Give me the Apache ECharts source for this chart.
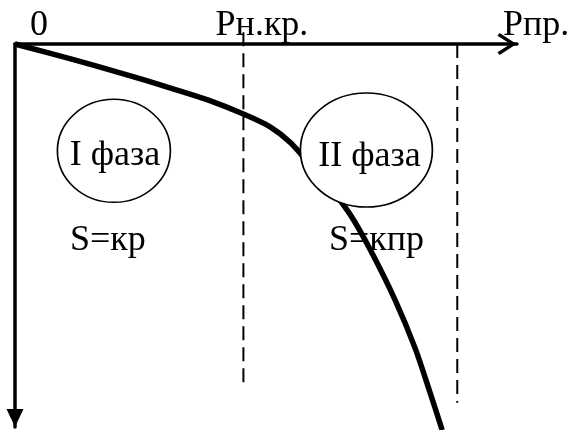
<!DOCTYPE html>
<html>
<head>
<meta charset="utf-8">
<script src="https://cdn.jsdelivr.net/npm/echarts@6/dist/echarts.min.js"></script>
<style>
  html, body { margin: 0; padding: 0; background: #fff; }
  #chart { width: 573px; height: 430px; }
</style>
</head>
<body>
<div id="chart"></div>
<script>
// settlement curve S(P), load P along x, settlement S downwards
var curveP = [0, 11.1, 21.1, 31.0, 38.4, 45.5, 50.9, 54.9, 58.8, 62.8, 66.8, 70.8, 75.7, 79.7, 82.7, 85.1];
var curveS = [0, 3.9, 7.6, 11.5, 14.6, 18.3, 21.7, 25.8, 31.6, 37.6, 44.6, 53.8, 66.8, 79.4, 91.1, 100.8];

// Pн.кр. and Pпр. dashed guides
var guideP = [45.5, 88.1];
var guideTop = [-3.1, 0];
var guideBottom = [89.8, 93.7];

// labels on the load axis
var axisTexts = ['0', 'Рн.кр.', 'Рпр.'];
var axisTextP = [4.8, 49.2, 103.8];
var axisTextS = [-4.7, -4.7, -4.7];

// phase ellipses
var phaseNames = ['I фаза', 'II фаза'];
var phaseP = [19.7, 70.0];
var phaseS = [27.9, 27.7];

// settlement laws
var lawTexts = ['S=кр', 'S=кпр'];
var lawP = [18.5, 72.0];
var lawS = [51.4, 51.4];

var font = '"Liberation Serif", "Times New Roman", serif';

var curveData = curveP.map(function (p, i) { return [p, curveS[i]]; });

var guideSeries = guideP.map(function (p, i) {
    return {
        type: 'line',
        data: [[p, guideTop[i]], [p, guideBottom[i]]],
        symbol: 'none',
        clip: false,
        z: 1,
        lineStyle: { color: '#000', width: 2, type: [14, 7] },
        silent: true
    };
});

var ellipseSizes = [[113, 103], [132, 114]];
var labelOffsets = [[1, 5], [3, 6]];

var textLabel = {
    show: true,
    position: 'inside',
    formatter: '{b}',
    color: '#000',
    opacity: 1,
    fontFamily: font,
    fontSize: 36
};

var option = {
    animation: false,
    backgroundColor: '#fff',
    grid: { left: 15, top: 44, right: 56, bottom: 3 },
    xAxis: {
        type: 'value',
        min: 0,
        max: 100,
        position: 'top',
        axisLine: {
            onZero: false,
            lineStyle: { color: '#000', width: 3.5 },
            symbol: ['none', 'path://M0,17 L11,0 L22,17 L19.2,19.2 L11,6 L2.8,19.2 Z'],
            symbolSize: [22, 20],
            symbolOffset: [0, -10]
        },
        axisTick: { show: false },
        axisLabel: { show: false },
        splitLine: { show: false }
    },
    yAxis: {
        type: 'value',
        min: 0,
        max: 100,
        inverse: true,
        axisLine: {
            onZero: false,
            lineStyle: { color: '#000', width: 3.5 },
            symbol: ['triangle', 'none'],
            symbolSize: [17, 18],
            symbolOffset: [9, 0]
        },
        axisTick: { show: false },
        axisLabel: { show: false },
        splitLine: { show: false }
    },
    series: guideSeries.concat([
        {
            type: 'scatter',
            data: lawTexts.map(function (t, i) { return { value: [lawP[i], lawS[i]], name: t }; }),
            symbolSize: 0,
            z: 1,
            itemStyle: { opacity: 1 },
            label: textLabel
        },
        {
            type: 'line',
            data: curveData,
            smooth: 0.3,
            symbol: 'none',
            clip: false,
            z: 2,
            lineStyle: { color: '#000', width: 5.5 }
        },
        {
            type: 'scatter',
            data: phaseNames.map(function (t, i) {
                return {
                    value: [phaseP[i], phaseS[i]],
                    name: t,
                    symbolSize: ellipseSizes[i],
                    label: { offset: labelOffsets[i] }
                };
            }),
            symbol: 'circle',
            z: 3,
            itemStyle: { color: '#fff', borderColor: '#000', borderWidth: 1.6, opacity: 1 },
            label: textLabel
        },
        {
            type: 'scatter',
            data: axisTexts.map(function (t, i) { return { value: [axisTextP[i], axisTextS[i]], name: t }; }),
            symbolSize: 0,
            clip: false,
            z: 4,
            itemStyle: { opacity: 1 },
            label: textLabel
        }
    ])
};

var myChart = echarts.init(document.getElementById('chart'));
myChart.setOption(option, true);
</script>
</body>
</html>
